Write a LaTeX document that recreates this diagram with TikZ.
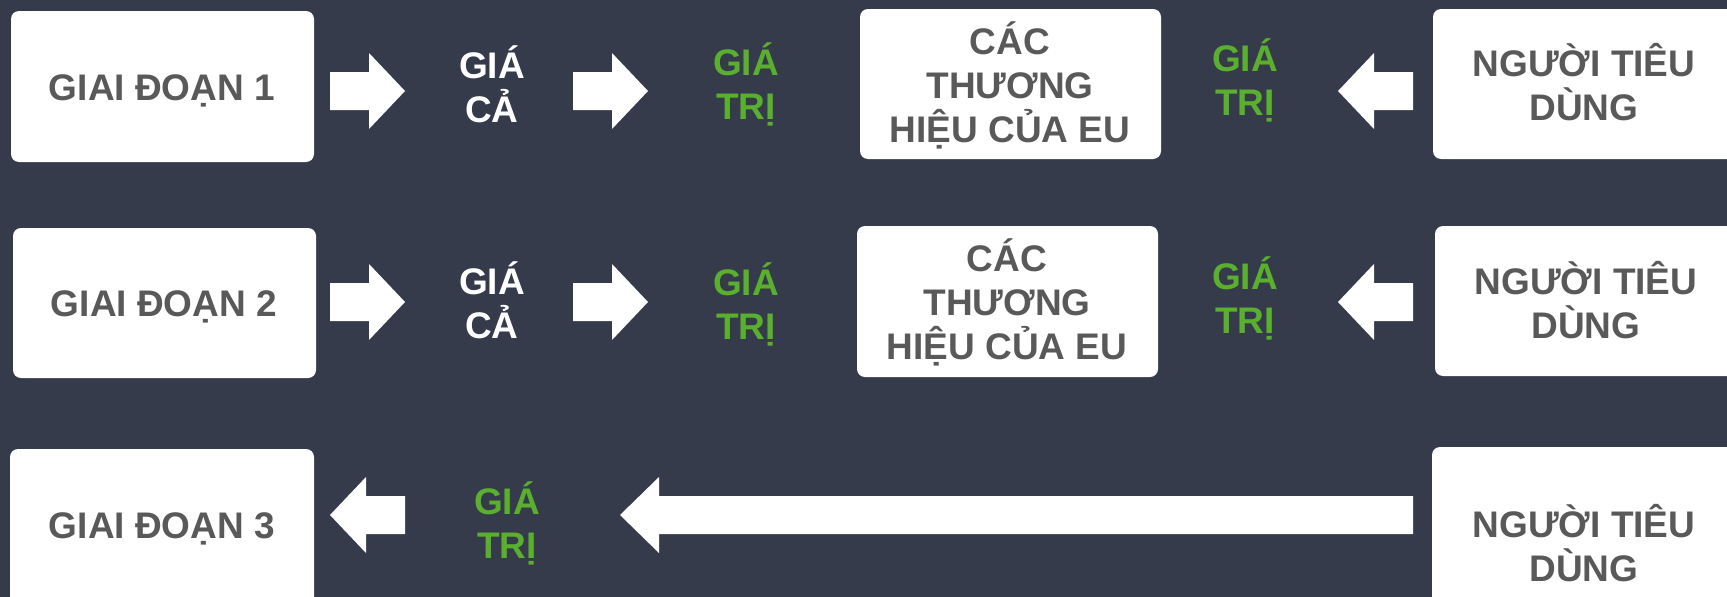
\documentclass[tikz,border=0pt]{standalone}
\usepackage{fontspec}
\setmainfont{Liberation Sans}
\definecolor{bg}{HTML}{353B4B}
\definecolor{txtgray}{HTML}{595959}
\definecolor{valgreen}{HTML}{5AAF2F}
\begin{document}
\begin{tikzpicture}[x=1pt,y=-1pt,
  card/.style={fill=white,rounded corners=8pt},
  cardtext/.style={align=center,inner sep=0pt,text=txtgray,font=\bfseries\fontsize{37}{44}\selectfont},
  pricetext/.style={align=center,inner sep=0pt,text=white,font=\bfseries\fontsize{37}{44}\selectfont},
  valuetext/.style={align=center,inner sep=0pt,text=valgreen,font=\bfseries\fontsize{37}{44}\selectfont},
  blockarrow/.style={fill=white}]
\fill[bg] (0,0) rectangle (1727,597);
\useasboundingbox (0,0) rectangle (1727,597);
\begin{scope}
\clip (0,0) rectangle (1727,597);
% Row 1
\fill[card] (11,11) rectangle (314,162);
\node[cardtext] (g1) at (162,91) {GIAI ĐOẠN 1};
\fill[card] (860,9) rectangle (1161,159);
\node[cardtext] (b1) at (1010,85) {CÁC\\THƯƠNG\\HIỆU CỦA EU};
\fill[card] (1433,9) rectangle (1740,159);
\node[cardtext] (c1) at (1584,82) {NGƯỜI TIÊU\\DÙNG};
\node[pricetext] (p1) at (492,84) {GIÁ\\CẢ};
\node[valuetext] (v1) at (746,84) {GIÁ\\TRỊ};
\node[valuetext] (w1) at (1245,80) {GIÁ\\TRỊ};
\fill[blockarrow] (330,72) -- (369,72) -- (369,53) -- (405,91) -- (369,129) -- (369,110) -- (330,110) -- cycle;
\fill[blockarrow] (573,72) -- (612,72) -- (612,53) -- (648,91) -- (612,129) -- (612,110) -- (573,110) -- cycle;
\fill[blockarrow] (1413,72) -- (1374,72) -- (1374,53) -- (1338,91) -- (1374,129) -- (1374,110) -- (1413,110) -- cycle;
% Row 2
\fill[card] (13,228) rectangle (316,378);
\node[cardtext] (g2) at (164,307) {GIAI ĐOẠN 2};
\fill[card] (857,226) rectangle (1158,377);
\node[cardtext] (b2) at (1007,302) {CÁC\\THƯƠNG\\HIỆU CỦA EU};
\fill[card] (1435,226) rectangle (1740,376);
\node[cardtext] (c2) at (1586,300) {NGƯỜI TIÊU\\DÙNG};
\node[pricetext] (p2) at (492,300) {GIÁ\\CẢ};
\node[valuetext] (v2) at (746,304) {GIÁ\\TRỊ};
\node[valuetext] (w2) at (1245,298) {GIÁ\\TRỊ};
\fill[blockarrow] (330,283) -- (369,283) -- (369,264) -- (405,302) -- (369,340) -- (369,321) -- (330,321) -- cycle;
\fill[blockarrow] (573,283) -- (612,283) -- (612,264) -- (648,302) -- (612,340) -- (612,321) -- (573,321) -- cycle;
\fill[blockarrow] (1413,283) -- (1374,283) -- (1374,264) -- (1338,302) -- (1374,340) -- (1374,321) -- (1413,321) -- cycle;
% Row 3
\fill[card] (10,449) rectangle (314,610);
\node[cardtext] (g3) at (162,529) {GIAI ĐOẠN 3};
\fill[card] (1432,447) rectangle (1740,641);
\node[cardtext] (c3) at (1584,543) {NGƯỜI TIÊU\\DÙNG};
\node[valuetext] (v3) at (507,523) {GIÁ\\TRỊ};
\fill[blockarrow] (405,496) -- (366,496) -- (366,477) -- (330,515) -- (366,553) -- (366,534) -- (405,534) -- cycle;
\fill[blockarrow] (1413,496) -- (659,496) -- (659,477) -- (620,515) -- (659,553) -- (659,534) -- (1413,534) -- cycle;
\end{scope}
\end{tikzpicture}
\end{document}
